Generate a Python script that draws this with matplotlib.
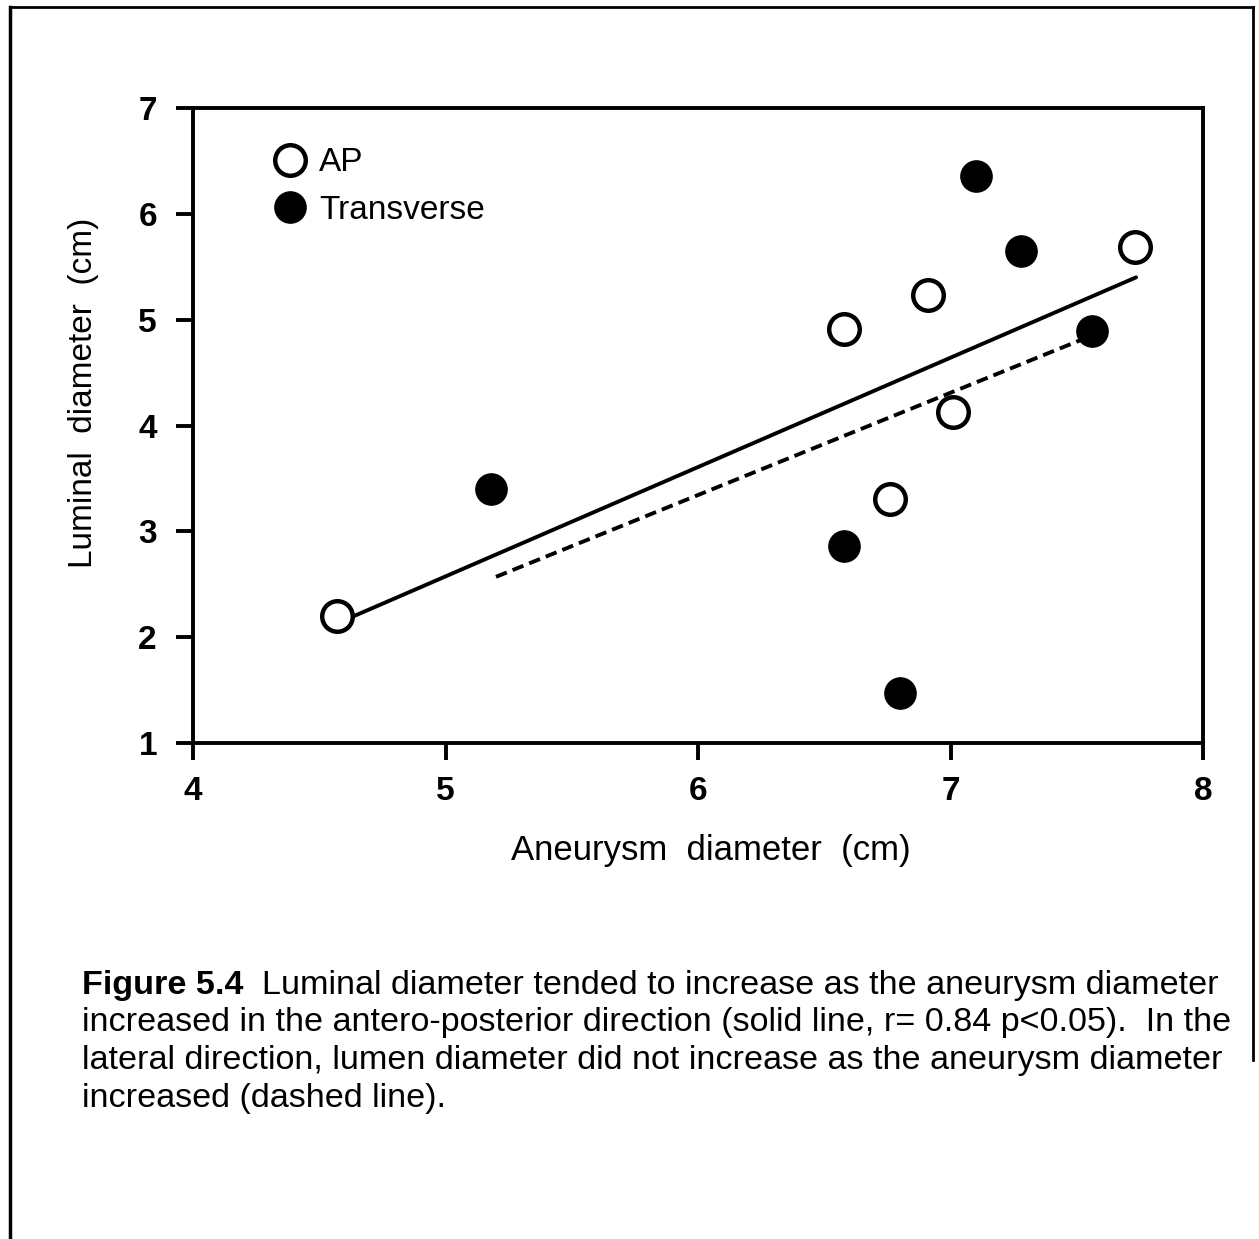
import matplotlib
matplotlib.use("Agg")
import matplotlib.pyplot as plt
from matplotlib.lines import Line2D

# ---- data ----
ap_x = [4.57, 6.58, 6.91, 7.01, 6.76, 7.73]
ap_y = [2.20, 4.91, 5.23, 4.13, 3.31, 5.69]
tr_x = [5.18, 6.58, 6.80, 7.10, 7.28, 7.56]
tr_y = [3.40, 2.86, 1.47, 6.36, 5.65, 4.89]
ap_fit_x = [4.58, 7.735]
ap_fit_y = [2.14, 5.40]
tr_fit_x = [5.20, 7.57]
tr_fit_y = [2.57, 4.86]
x_ticks = [4, 5, 6, 7, 8]
y_ticks = [1, 2, 3, 4, 5, 6, 7]
series_labels = ["AP", "Transverse"]
x_label = "Aneurysm  diameter  (cm)"
y_label = "Luminal  diameter  (cm)"
caption_bold = "Figure 5.4"
caption_lines = [
    "  Luminal diameter tended to increase as the aneurysm diameter",
    "increased in the antero-posterior direction (solid line, r= 0.84 p<0.05).  In the",
    "lateral direction, lumen diameter did not increase as the aneurysm diameter",
    "increased (dashed line).",
]

W, H = 1259, 1239
plt.rcParams['font.family'] = ['Liberation Sans', 'DejaVu Sans']
fig = plt.figure(figsize=(W / 100, H / 100), dpi=100)
fig.patch.set_facecolor('white')

def fx(px):
    return px / W

def fy(py):
    return 1 - py / H

L, R, T, B = 193, 1203, 108, 743
ax = fig.add_axes([fx(L), fy(B), fx(R) - fx(L), fy(T) - fy(B)])

ax.plot(ap_fit_x, ap_fit_y, color='black', lw=2.8, solid_capstyle='round', zorder=2)
ax.plot(tr_fit_x, tr_fit_y, color='black', lw=2.8, ls=(0, (3, 1.6)), zorder=2)
ax.plot(ap_x, ap_y, ls='none', marker='o', ms=22, mfc='white', mec='black', mew=3.2,
        label=series_labels[0], zorder=3)
ax.plot(tr_x, tr_y, ls='none', marker='o', ms=22.5, mfc='black', mec='black', mew=1,
        label=series_labels[1], zorder=3)

ax.set_xlim(4, 8)
ax.set_ylim(1, 7)
ax.set_xticks(x_ticks)
ax.set_yticks(y_ticks)
ax.set_xticklabels([str(v) for v in x_ticks], fontsize=24, fontweight='bold')
ax.set_yticklabels([str(v) for v in y_ticks], fontsize=24, fontweight='bold')
ax.tick_params(axis='both', direction='out', length=12, width=2.8, color='black')
ax.tick_params(axis='x', pad=12)
ax.tick_params(axis='y', pad=14)
for s in ax.spines.values():
    s.set_linewidth(2.8)

ax.set_xlabel(x_label, fontsize=25, labelpad=18)
ax.set_ylabel(y_label, fontsize=24, labelpad=26)
ax.xaxis.set_label_coords(0.513, -0.143)
ax.yaxis.set_label_coords(-0.093, 0.551)

leg = ax.legend(loc='upper left', bbox_to_anchor=(0.080, 0.938), frameon=False,
                fontsize=24, handlelength=1.0, handletextpad=0.35, labelspacing=0.5,
                borderaxespad=0, borderpad=0)

# outer frame
fig.add_artist(Line2D([fx(10), fx(10)], [fy(7), 0], color='black', lw=2.5))
fig.add_artist(Line2D([fx(10), fx(1253)], [fy(7), fy(7)], color='black', lw=2.0))
fig.add_artist(Line2D([fx(1253), fx(1253)], [fy(7), fy(1060)], color='black', lw=2.0))

# caption
cap_fs = 24.6
base0 = 994
t0 = fig.text(fx(82), fy(base0), caption_bold, fontsize=cap_fs, fontweight='bold',
              ha='left', va='baseline')
fig.canvas.draw()
bb = t0.get_window_extent()
fig.text(bb.x1 / W, fy(base0), caption_lines[0], fontsize=cap_fs, ha='left', va='baseline')
line_gap = 37.5
for i, ln in enumerate(caption_lines[1:], start=1):
    fig.text(fx(82), fy(base0 + i * line_gap), ln, fontsize=cap_fs, ha='left', va='baseline')

fig.savefig('out.png', dpi=100, facecolor='white')
